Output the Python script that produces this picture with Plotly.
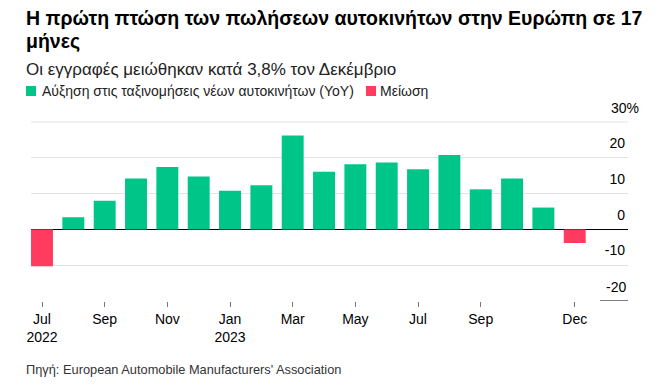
import plotly.graph_objects as go

months = ["2022-07", "2022-08", "2022-09", "2022-10", "2022-11", "2022-12",
          "2023-01", "2023-02", "2023-03", "2023-04", "2023-05", "2023-06",
          "2023-07", "2023-08", "2023-09", "2023-10", "2023-11", "2023-12"]
yoy_change = [-10.3, 3.4, 8.0, 14.2, 17.4, 14.8,
              10.8, 12.3, 26.2, 16.1, 18.2, 18.7,
              16.8, 20.8, 11.2, 14.2, 6.1, -3.8]
tick_months = ["2022-07", "2022-09", "2022-11", "2023-01", "2023-03",
               "2023-05", "2023-07", "2023-09", "2023-12"]
tick_labels = ["Jul<br>2022", "Sep", "Nov", "Jan<br>2023", "Mar",
               "May", "Jul", "Sep", "Dec"]
y_ticks = [-10, 0, 10, 20, 30]
y_tick_labels = ["-10", "0", "10", "20", ""]
series_names = ["Αύξηση στις ταξινομήσεις νέων αυτοκινήτων (YoY)", "Μείωση"]

GREEN = "#00C589"
RED = "#FF3B5F"
GRID = "#E3E3E3"
FONT = "Arial, Liberation Sans, sans-serif"

# page body has an 8px default margin; figure is sized to fill the 659x385 window
OFF = 8
W, H = 659 - OFF, 385 - OFF
# plot area in window pixels: x 31..628, y 121..301
PL, PR, PT, PB = 31, 628, 121, 301
PW, PH = PR - PL, PB - PT


def px_x(x):
    return (x - PL) / PW


def px_y(y):
    return (PB - y) / PH


pos = [v if v >= 0 else None for v in yoy_change]
neg = [v if v < 0 else None for v in yoy_change]

fig = go.Figure()
fig.add_trace(go.Bar(x=months, y=pos, name=series_names[0],
                     marker=dict(color=GREEN, line=dict(width=0)), width=0.7))
fig.add_trace(go.Bar(x=months, y=neg, name=series_names[1],
                     marker=dict(color=RED, line=dict(width=0)), width=0.7))

fig.update_layout(
    width=W, height=H,
    margin=dict(l=PL - OFF, r=659 - PR, t=PT - OFF, b=385 - PB, autoexpand=False),
    paper_bgcolor="white", plot_bgcolor="white",
    barmode="overlay",
    font=dict(family=FONT, color="#000000", size=14),
    showlegend=False,
)

fig.update_xaxes(
    type="category", categoryorder="array", categoryarray=months,
    range=[-0.351, 18.70],
    tickmode="array", tickvals=tick_months, ticktext=tick_labels,
    ticks="outside", ticklen=5, tickcolor="#777777", tickwidth=1,
    showgrid=False, showline=False, zeroline=False,
    tickfont=dict(size=14, color="#000000"),
)
fig.update_yaxes(
    range=[-20, 30.28], side="right",
    tickmode="array", tickvals=y_ticks, ticktext=y_tick_labels,
    ticklabelposition="inside top", ticks="", ticklabelshift=-5,
    showgrid=True, gridcolor=GRID, gridwidth=1,
    zeroline=True, zerolinecolor="#000000", zerolinewidth=1.2,
    showline=False,
    tickfont=dict(size=14, color="#000000"),
)

# top gridline (30) drawn explicitly, in case the edge gridline is dropped
fig.add_shape(type="line", xref="paper", yref="y", x0=0, x1=1, y0=30, y1=30,
              line=dict(color=GRID, width=1), layer="below")
# "-20" bottom reference mark and label, top "30%" label
fig.add_shape(type="line", xref="paper", yref="y", x0=px_x(600), x1=1, y0=-20, y1=-20,
              line=dict(color="#000000", width=1))
fig.add_annotation(text="-20", xref="paper", yref="y", x=1, y=-20, xanchor="right",
                   yanchor="middle", showarrow=False, yshift=14,
                   font=dict(size=14, color="#000000"))
fig.add_annotation(text="30%", xref="paper", yref="y", x=px_x(641), y=30, xanchor="right",
                   yanchor="middle", showarrow=False, yshift=14,
                   font=dict(size=14, color="#000000"))

# title, subtitle
fig.add_annotation(text="<b>Η πρώτη πτώση των πωλήσεων αυτοκινήτων στην Ευρώπη σε 17</b>",
                   xref="paper", yref="paper", x=px_x(24), y=px_y(18),
                   xanchor="left", yanchor="middle", showarrow=False,
                   font=dict(size=19.5, color="#000000"))
fig.add_annotation(text="<b>μήνες</b>",
                   xref="paper", yref="paper", x=px_x(24), y=px_y(40.5),
                   xanchor="left", yanchor="middle", showarrow=False,
                   font=dict(size=19.5, color="#000000"))
fig.add_annotation(text="Οι εγγραφές μειώθηκαν κατά 3,8% τον Δεκέμβριο",
                   xref="paper", yref="paper", x=px_x(24), y=px_y(70),
                   xanchor="left", yanchor="middle", showarrow=False,
                   font=dict(size=17, color="#222222"))

# legend (squares + labels)
fig.add_shape(type="rect", xref="paper", yref="paper",
              x0=px_x(26), x1=px_x(36), y0=px_y(86), y1=px_y(96),
              fillcolor=GREEN, line=dict(width=0))
fig.add_annotation(text=series_names[0], xref="paper", yref="paper",
                   x=px_x(40), y=px_y(91), xanchor="left", yanchor="middle",
                   showarrow=False, font=dict(size=14, color="#222222"))
fig.add_shape(type="rect", xref="paper", yref="paper",
              x0=px_x(366), x1=px_x(376), y0=px_y(86), y1=px_y(96),
              fillcolor=RED, line=dict(width=0))
fig.add_annotation(text=series_names[1], xref="paper", yref="paper",
                   x=px_x(378), y=px_y(91), xanchor="left", yanchor="middle",
                   showarrow=False, font=dict(size=14, color="#222222"))

# source
fig.add_annotation(text="Πηγή: European Automobile Manufacturers' Association",
                   xref="paper", yref="paper", x=px_x(24), y=px_y(369),
                   xanchor="left", yanchor="middle", showarrow=False,
                   font=dict(size=12.8, color="#333333"))

fig.write_html("out.html")
